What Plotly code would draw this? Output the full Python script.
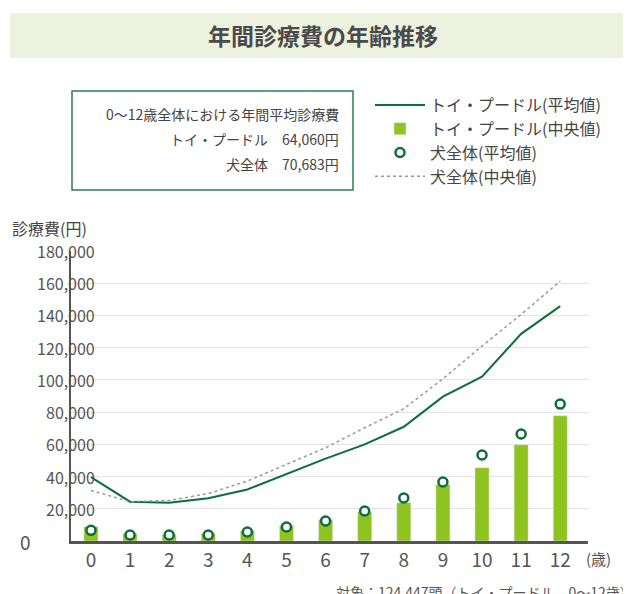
import plotly.graph_objects as go

ages = list(range(13))
age_labels = [str(a) for a in ages]
poodle_mean = [39700, 24400, 23800, 26500, 32000, 41800, 51100, 60000, 70900, 89600, 102000, 128600, 145800]
poodle_median = [8900, 4550, 3900, 4550, 6400, 9500, 13200, 18200, 23800, 35000, 45500, 59800, 77800]
all_mean = [6600, 3700, 3700, 3700, 5600, 8700, 12400, 18600, 26700, 36600, 53400, 66400, 85000]
all_median = [31400, 24400, 25200, 29400, 37200, 47600, 57900, 70300, 82100, 100700, 121000, 140600, 161300]
y_ticks = [20000, 40000, 60000, 80000, 100000, 120000, 140000, 160000, 180000]
info_lines = ['0～12歳全体における年間平均診療費', 'トイ・プードル　64,060円', '犬全体　70,683円']

FONT = "Noto Sans CJK JP"
GREEN = "#0b6e3c"
LIME = "#8fc31f"

# plot area in pixels
L, R, T, B = 63, 580, 243, 533
W, H = R - L, B - T
def px(x):
    return (x - L) / W
def py(y):
    return (B - y) / H

fig = go.Figure()
fig.add_trace(go.Scatter(x=ages, y=poodle_mean, mode='lines', line=dict(color=GREEN, width=2),
                         name='トイ・プードル(平均値)'))
fig.add_trace(go.Bar(x=ages, y=poodle_median, marker_color=LIME, width=0.36,
                     name='トイ・プードル(中央値)'))
fig.add_trace(go.Scatter(x=ages, y=all_mean, mode='markers',
                         marker=dict(symbol='circle', size=9, color='white', line=dict(color=GREEN, width=2.5)),
                         name='犬全体(平均値)'))
fig.add_trace(go.Scatter(x=ages, y=all_median, mode='lines', line=dict(color='#999999', width=1.5, dash='dot'),
                         name='犬全体(中央値)'))

annotations = []
for v in y_ticks:
    annotations.append(dict(xref='paper', yref='y', x=px(89), y=v, text=f"{v:,}", showarrow=False,
                            xanchor='right', yanchor='middle', font=dict(size=16, color='#555', family=FONT)))
for i, line in enumerate(info_lines):
    annotations.append(dict(xref='paper', yref='paper', x=px(333), y=py(106 + 25 * i), text=line, showarrow=False,
                            xanchor='right', yanchor='middle', font=dict(size=14, color='#444', family=FONT)))
annotations += [
    dict(xref='paper', yref='paper', x=px(17), y=py(533), text='0', showarrow=False, xanchor='center',
         yanchor='middle', font=dict(size=19, color='#555', family=FONT)),
    dict(xref='paper', yref='paper', x=px(576), y=py(550), text='(歳)', showarrow=False, xanchor='left',
         yanchor='middle', font=dict(size=15, color='#555', family=FONT)),
    dict(xref='paper', yref='paper', x=px(2), y=py(220), text='診療費(円)', showarrow=False, xanchor='left',
         yanchor='middle', font=dict(size=16, color='#444', family=FONT)),
    dict(xref='paper', yref='paper', x=px(628), y=py(584), text='対象：124,447頭（トイ・プードル、0〜12歳）',
         showarrow=False, xanchor='right', yanchor='middle', font=dict(size=14, color='#555', family=FONT)),
    dict(xref='paper', yref='paper', x=px(315), y=py(27), text='<b>年間診療費の年齢推移</b>', showarrow=False,
         xanchor='center', yanchor='middle', font=dict(size=23, color='#4a4a4a', family=FONT)),
]

shapes = [
    dict(type='rect', xref='paper', yref='paper', x0=px(2), x1=px(629), y0=py(5), y1=py(50),
         fillcolor='#edf2de', line=dict(width=0), layer='below'),
    dict(type='rect', xref='paper', yref='paper', x0=px(64), x1=px(345), y0=py(83), y1=py(182),
         line=dict(color='#2e7d4f', width=1.5), fillcolor='rgba(0,0,0,0)'),
]

fig.update_layout(
    width=631, height=594,
    margin=dict(l=L, r=631 - R, t=T, b=594 - B, autoexpand=False),
    paper_bgcolor='white', plot_bgcolor='white',
    font=dict(family=FONT, color='#444'),
    showlegend=True,
    legend=dict(x=px(362), y=py(80), xanchor='left', yanchor='top', font=dict(size=16, color='#444', family=FONT),
                tracegroupgap=0, itemwidth=50, bgcolor='rgba(0,0,0,0)'),
    xaxis=dict(range=[-0.51, 12.71], tickvals=ages, ticktext=age_labels, tickfont=dict(size=19, color='#555'),
               showgrid=False, showline=True, linecolor='#555', linewidth=3, ticks=''),
    yaxis=dict(range=[0, 180000], tickvals=y_ticks, showticklabels=False, showgrid=True, gridcolor='#e3e3e3',
               showline=True, linecolor='#555', linewidth=2, zeroline=False),
    annotations=annotations, shapes=shapes, bargap=0.6,
)

fig.write_html("out.html")
